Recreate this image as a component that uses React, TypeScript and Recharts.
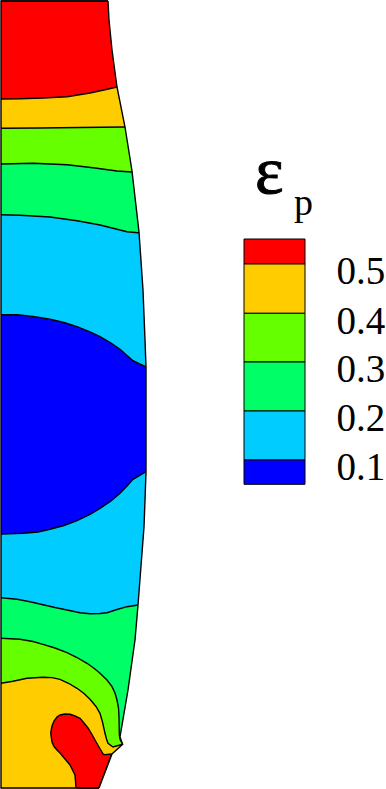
import React from "react";
import {
  Area,
  ComposedChart,
  Line,
  ReferenceArea,
  ReferenceDot,
  XAxis,
  YAxis,
} from "recharts";

type Pt = { x: number; y: number };
const pts = (rows: number[][]): Pt[] => rows.map(([x, y]) => ({ x, y }));

const RED = "#ff0000";
const ORANGE = "#ffcc00";
const LIME = "#66ff00";
const SPRING = "#00ff66";
const CYAN = "#00ccff";
const BLUE = "#0000ff";

// contour lines of the section, top to bottom (x, y in image units)
const topEdge = pts([[1, 1], [160, 1]]);
const contour45 = pts([[1, 99], [20, 98.8], [43, 98], [67, 96.7], [90, 93], [105, 89.8], [117, 87], [160, 87]]);
const contour35 = pts([[1, 128.3], [40, 128], [80, 127.5], [125, 127], [160, 127]]);
const contour30 = pts([[1, 164], [33, 163.3], [67, 164.7], [93, 167.7], [117, 171], [132, 172], [160, 172]]);
const contour20 = pts([[1, 214.7], [20, 215.3], [50, 217], [77, 220.7], [100, 225], [127, 231.7], [138, 232.7], [160, 232.7]]);
const contour10a = pts([[1, 314.7], [17, 314.7], [33, 316.5], [50, 319.3], [64, 322.5], [77, 326.7], [90, 331.8], [100, 336.7], [111, 343], [120, 349.3], [127, 355.5], [133, 360.7], [145.5, 366.7], [160, 366.7]]);
const contour10b = pts([[1, 534], [23, 533.3], [38, 532], [50, 529.3], [64, 525.5], [77, 520.7], [90, 514.5], [100, 508.3], [111, 501], [120, 493.3], [127, 486], [133, 479.3], [146, 471.7], [160, 471.7]]);
const contour20b = pts([[1, 597.7], [17, 599.3], [30, 601.8], [43, 604.7], [55, 607.5], [67, 610], [80, 612.8], [90, 613.7], [100, 613.5], [107, 612.7], [117, 609.5], [127, 606.7], [138, 605], [160, 605]]);
const contour30b = pts([[1, 638.3], [20, 639.3], [33, 641.5], [43, 644.3], [55, 648], [67, 652.7], [77, 657.5], [87, 663.3], [94, 668.3], [100, 673.3], [107, 680], [112, 686.7], [115, 693], [117, 700], [118.5, 708], [119, 716.7], [119.2, 726], [119.3, 735], [120.3, 740], [122.7, 744.3], [160, 744.3]]);
const contour40b = pts([[1, 683.3], [13, 681.3], [27, 678.3], [43, 677.3], [52, 677.6], [60, 679.3], [69, 683.5], [77, 688.3], [84, 693.5], [90, 699.3], [96, 706.5], [100, 713.3], [102.5, 722], [105, 733.3], [106.5, 739], [108, 743.3], [113, 747], [122.7, 744.3], [160, 744.3]]);

// hot spot near the lower corner: same x, upper and lower boundary
const hotX = [50.7, 52, 54, 57, 60, 65, 70, 75, 76, 80, 84, 88, 92, 95, 99, 103.3, 105, 111.7];
const hotUpper = [733, 726, 721, 717, 715, 714, 714.3, 716, 716.5, 718.3, 723, 728, 734.5, 740, 747, 754.3, 754.6, 754];
const hotLower = [733, 742, 746.5, 750, 753, 759, 765, 775, 787.5, 788, 788, 788, 788, 788, 788, 776.5, 772, 754];
const hotSpot = hotX.map((x, i) => ({ x, range: [hotLower[i], hotUpper[i]] }));

// free surface of the section
const edgeUpper = pts([[108, 1], [109, 20], [112, 50], [117, 87], [125, 127], [132, 171], [139, 232], [143, 290], [145, 340], [146, 367], [146, 472]]);
const edgeLower = pts([[146, 472], [145, 500], [144, 527], [138, 605], [135, 640], [128, 690], [120, 737], [122.7, 744.3], [112, 754], [99, 788]]);
const frame = pts([[108, 1], [1, 1], [1, 788], [99, 788]]);

const maskUpper = [...edgeUpper.map((p) => (p.y === 1 ? { ...p, y: 0 } : p)), { x: 386, y: 472 }];
const maskLower = [{ x: 386, y: 472 }, ...edgeLower, { x: 99, y: 789 }];

const bands: { data: Pt[]; fill: string }[] = [
  { data: topEdge, fill: RED },
  { data: contour45, fill: ORANGE },
  { data: contour35, fill: LIME },
  { data: contour30, fill: SPRING },
  { data: contour20, fill: CYAN },
  { data: contour10a, fill: BLUE },
  { data: contour10b, fill: CYAN },
  { data: contour20b, fill: SPRING },
  { data: contour30b, fill: LIME },
  { data: contour40b, fill: ORANGE },
];

// colour bar
const legendColors = [RED, ORANGE, LIME, SPRING, CYAN, BLUE];
const legendEdges = [239, 264, 313.3, 362, 411, 460, 484.3];
const legendLabels = ["0.5", "0.4", "0.3", "0.2", "0.1"];
const legendBaselines = [284, 334, 382, 431, 480];

const textAt = (value: string, fontSize: number, outline: number = 0) => (p: any) =>
  (
    <text
      x={p.cx}
      y={p.cy}
      fontFamily="'Liberation Serif', serif"
      fontSize={fontSize}
      fill="#000"
      stroke={outline ? "#000" : "none"}
      strokeWidth={outline}
    >
      {value}
    </text>
  );

export default function App() {
  return (
    <div style={{ position: "absolute", left: 0, top: 0, width: 386, height: 789 }}>
      <ComposedChart width={386} height={789} margin={{ top: 0, right: 0, bottom: 0, left: 0 }}>
        <XAxis type="number" dataKey="x" domain={[0, 386]} hide />
        <YAxis type="number" domain={[0, 789]} reversed hide />

        {bands.map((b, i) => (
          <Area
            key={i}
            data={b.data}
            dataKey="y"
            type="linear"
            baseValue={789}
            fill={b.fill}
            fillOpacity={1}
            stroke="#000"
            strokeWidth={1.4}
            dot={false}
            activeDot={false}
            isAnimationActive={false}
          />
        ))}
        <Area
          data={hotSpot}
          dataKey="range"
          type="linear"
          fill={RED}
          fillOpacity={1}
          stroke="#000"
          strokeWidth={1.4}
          dot={false}
          activeDot={false}
          isAnimationActive={false}
        />

        <Area data={maskUpper} dataKey="y" type="linear" baseValue={0} fill="#fff" fillOpacity={1} stroke="none" dot={false} activeDot={false} isAnimationActive={false} />
        <Area data={maskLower} dataKey="y" type="linear" baseValue={789} fill="#fff" fillOpacity={1} stroke="none" dot={false} activeDot={false} isAnimationActive={false} />

        <Line data={edgeUpper} dataKey="y" type="linear" stroke="#000" strokeWidth={1.4} dot={false} activeDot={false} isAnimationActive={false} />
        <Line data={edgeLower} dataKey="y" type="linear" stroke="#000" strokeWidth={1.4} dot={false} activeDot={false} isAnimationActive={false} />
        <Line data={frame} dataKey="y" type="linear" stroke="#000" strokeWidth={1.4} dot={false} activeDot={false} isAnimationActive={false} />

        {legendColors.map((c, i) => (
          <ReferenceArea
            key={c}
            x1={244}
            x2={305}
            y1={legendEdges[i]}
            y2={legendEdges[i + 1]}
            fill={c}
            fillOpacity={1}
            stroke="#000"
            strokeWidth={1}
          />
        ))}
        {legendLabels.map((t, i) => (
          <ReferenceDot key={t} x={336.5} y={legendBaselines[i]} r={0} shape={textAt(t, 39)} />
        ))}
        <ReferenceDot x={255} y={193} r={0} shape={textAt("ε", 68, 1)} />
        <ReferenceDot x={294} y={214.5} r={0} shape={textAt("p", 38)} />
      </ComposedChart>
    </div>
  );
}
